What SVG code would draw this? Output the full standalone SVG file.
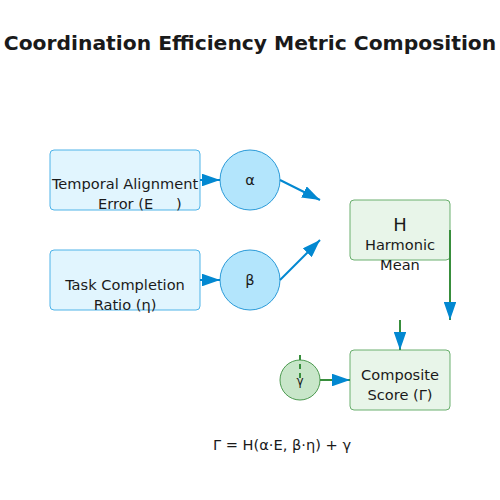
<svg xmlns="http://www.w3.org/2000/svg" width="500" height="500" viewBox="0 0 500 500">
<defs>
<marker id="arr" viewBox="0 0 10 7" refX="10" refY="3.5" markerWidth="9" markerHeight="6.3" markerUnits="strokeWidth" orient="auto">
<path d="M0,0 L10,3.5 L0,7 z" fill="#0288d1"/>
</marker>
<style>
text{font-family:"DejaVu Sans",sans-serif;fill:#1a1a1a;text-anchor:middle}
.t{font-size:14.6px}
.bb{fill:#e1f5fe;stroke:#4fb3e8;stroke-width:1}
.bc{fill:#b3e5fc;stroke:#2a9ad8;stroke-width:1}
.gb{fill:#e8f5e9;stroke:#6aaf6e;stroke-width:1}
.gc{fill:#c8e6c9;stroke:#4c9a50;stroke-width:1}
.bl{stroke:#0288d1;stroke-width:2;fill:none;marker-end:url(#arr)}
.gl{stroke:#388e3c;stroke-width:2;fill:none;marker-end:url(#arr)}
</style>
</defs>
<rect width="500" height="500" fill="#ffffff"/>
<text x="250" y="50" style="font-size:20.3px;font-weight:bold">Coordination Efficiency Metric Composition</text>
<g id="temporal">
<rect class="bb" x="50" y="150" width="150" height="60" rx="4"/>
<text class="t" x="125" y="189">Temporal Alignment</text>
<text class="t" y="209" style="text-anchor:start"><tspan x="98">Error (E</tspan><tspan x="176">)</tspan></text>
</g>
<g id="task">
<rect class="bb" x="50" y="250" width="150" height="60" rx="4"/>
<text class="t" x="125" y="290">Task Completion</text>
<text class="t" x="125" y="310">Ratio (η)</text>
</g>
<g id="alpha">
<circle class="bc" cx="250" cy="180" r="30"/>
<text class="t" x="250" y="185">α</text>
</g>
<g id="beta">
<circle class="bc" cx="250" cy="280" r="30"/>
<text class="t" x="250" y="285">β</text>
</g>
<g id="harmonic">
<rect class="gb" x="350" y="200" width="100" height="60" rx="4"/>
<text x="400" y="231" style="font-size:18px">H</text>
<text class="t" x="400" y="250">Harmonic</text>
<text class="t" x="400" y="270">Mean</text>
</g>
<g id="composite">
<rect class="gb" x="350" y="350" width="100" height="60" rx="4"/>
<text class="t" x="400" y="380">Composite</text>
<text class="t" x="400" y="400">Score (Γ)</text>
</g>
<g id="gamma">
<circle class="gc" cx="300" cy="380" r="20"/>
<text x="300" y="385" style="font-size:12px">γ</text>
</g>
<g id="connectors">
<line class="bl" x1="200" y1="180" x2="220" y2="180"/>
<line class="bl" x1="200" y1="280" x2="220" y2="280"/>
<line class="bl" x1="280" y1="180" x2="320" y2="200"/>
<line class="bl" x1="280" y1="280" x2="320" y2="240"/>
<line class="gl" x1="450" y1="230" x2="450" y2="320"/>
<line class="gl" x1="400" y1="320" x2="400" y2="350"/>
<line class="gl" x1="320" y1="380" x2="350" y2="380"/>
<line x1="300" y1="355" x2="300" y2="380" stroke="#388e3c" stroke-width="2" stroke-dasharray="5,4"/>
</g>
<text class="t" x="282" y="450">Γ = H(α·E, β·η) + γ</text>
</svg>
